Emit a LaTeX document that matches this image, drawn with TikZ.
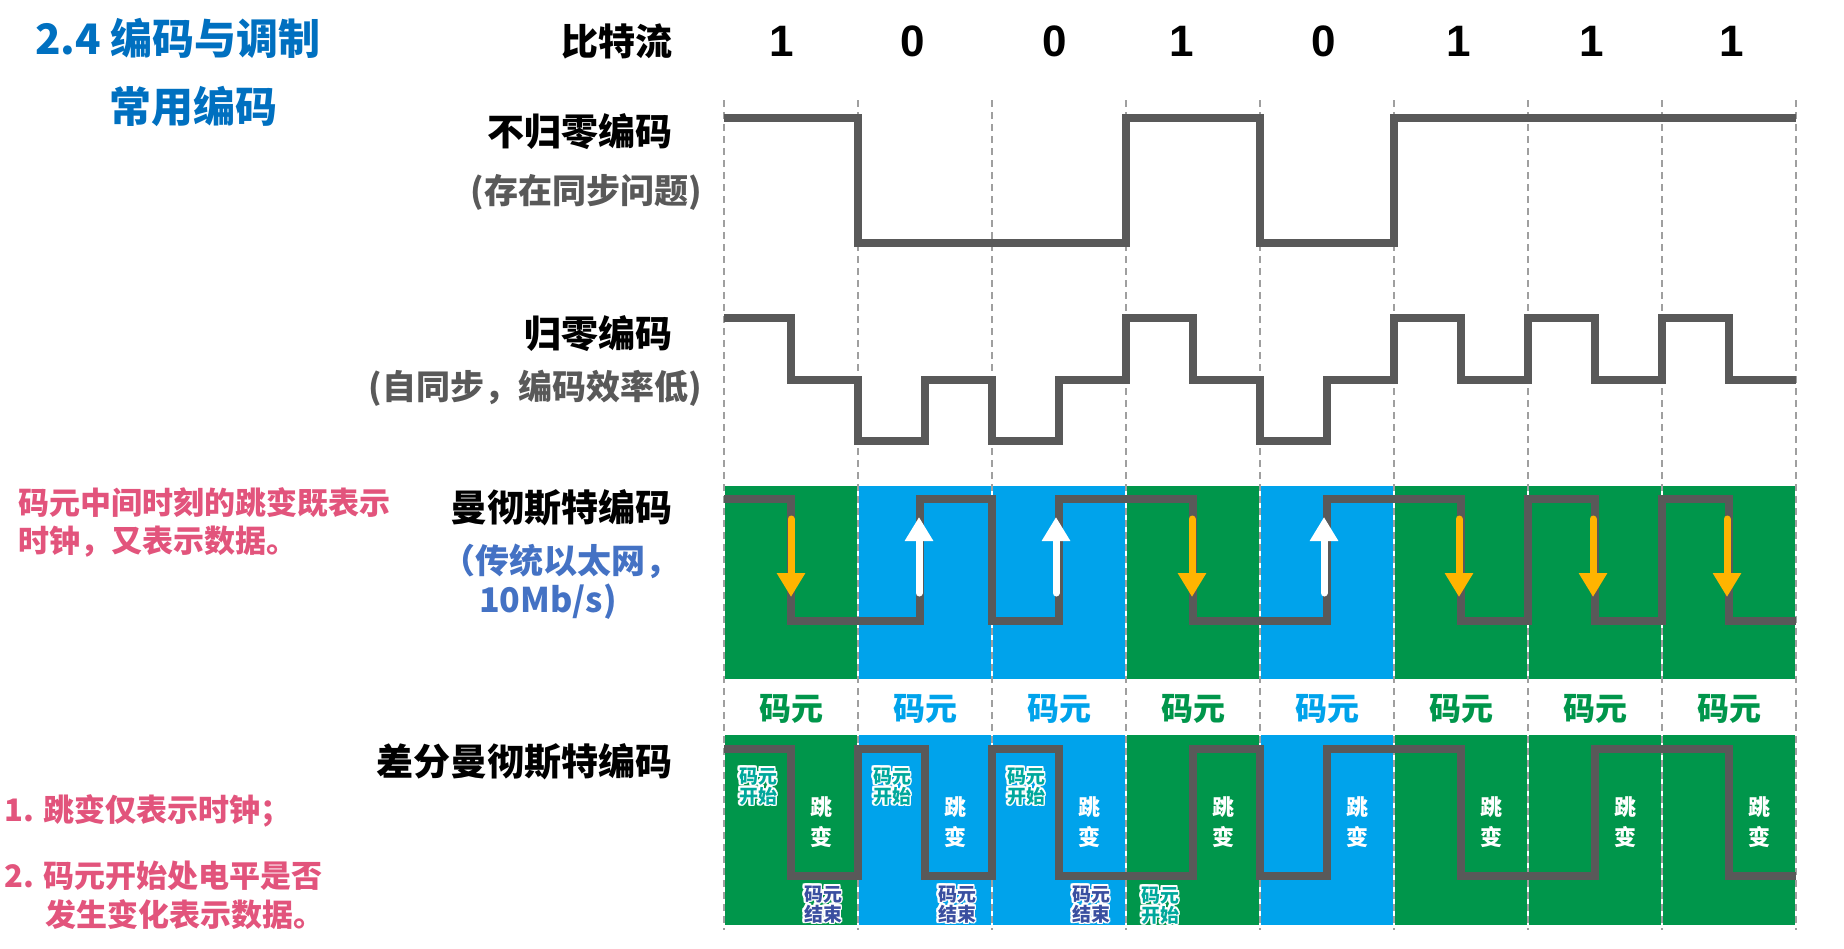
\documentclass[tikz,border=0pt]{standalone}
\usepackage{fontspec}
\setmainfont{Noto Sans CJK SC}[BoldFont={Noto Sans CJK SC Black}]
\newfontfamily\numfont{Liberation Sans}
\usepackage{contour}
\contourlength{1.6pt}
\usepackage{tikz}
\usetikzlibrary{arrows.meta,positioning}
\usepackage{xcolor}

\definecolor{wavegray}{HTML}{595959}
\definecolor{cellgreen}{RGB}{0,150,75}
\definecolor{cellblue}{RGB}{0,163,235}
\definecolor{titleblue}{HTML}{0070C0}
\definecolor{notepink}{RGB}{226,84,124}
\definecolor{ethblue}{HTML}{4472C4}
\definecolor{remarkgray}{HTML}{595959}
\definecolor{arrowyellow}{RGB}{255,180,0}
\definecolor{starttag}{RGB}{0,168,156}
\definecolor{endtag}{RGB}{58,79,160}

\newcommand{\tagtext}[2]{\contour{white}{#1}\\\contour{white}{#2}}

\begin{document}
\begin{tikzpicture}[
  x=1pt, y=-1pt,
  wave/.style={draw=wavegray, line width=8pt, line join=miter},
  gridline/.style={draw=gray!75, line width=1.1pt, dash pattern=on 7pt off 5pt},
  codename/.style={anchor=east, inner sep=0pt, font=\fontsize{37}{44}\selectfont\bfseries},
  remark/.style={anchor=east, inner sep=0pt, text=remarkgray, font=\fontsize{34}{40}\selectfont\bfseries},
  note/.style={anchor=west, align=left, inner sep=0pt, text=notepink, font=\fontsize{31}{38}\selectfont\bfseries},
  bitval/.style={inner sep=0pt, font=\numfont\fontsize{44}{50}\selectfont\bfseries},
  celllabel/.style={inner sep=0pt, font=\fontsize{32}{38}\selectfont\bfseries},
  edgetag/.style={align=center, inner sep=0pt, font=\fontsize{19}{20}\selectfont\bfseries},
  jump/.style={align=center, inner sep=0pt, text=white, font=\fontsize{22}{30}\selectfont\bfseries},
  downarr/.style={draw=arrowyellow, line width=7pt, line cap=round, -{Triangle[width=27pt,length=24pt]}},
  uparr/.style={draw=white, line width=7pt, line cap=round, -{Triangle[width=27pt,length=24pt]}}
]
\useasboundingbox (0,0) rectangle (1844,948);

% Title
\node[anchor=west, inner sep=0pt, text=titleblue, font=\fontsize{42}{48}\selectfont\bfseries] (title) at (35,38) {2.4 编码与调制};
\node[anchor=west, inner sep=0pt, text=titleblue, font=\fontsize{42}{48}\selectfont\bfseries] (subtitle) at (109,106) {常用编码};

% Colored code cells
\foreach \i/\c in {0/cellgreen,1/cellblue,2/cellblue,3/cellgreen,4/cellblue,5/cellgreen,6/cellgreen,7/cellgreen} {
  \fill[\c] ({724+134*\i+1},486) rectangle ({724+134*(\i+1)-1},679);
  \fill[\c] ({724+134*\i+1},735) rectangle ({724+134*(\i+1)-1},925);
  \node[celllabel, text=\c] (cell\i) at ({791+134*\i},709) {码元};
}

% Bit boundaries
\foreach \i in {0,...,8}
  \draw[gridline] ({724+134*\i},100) -- ({724+134*\i},930);

% Bit stream
\node[codename] (bitstream) at (673,41) {比特流};
\foreach \i/\b/\bx in {0/1/782,1/0/913,2/0/1055,3/1/1182,4/0/1324,5/1/1459,6/1/1592,7/1/1732}
  \node[bitval] (bit\i) at (\bx,41) {\b};

% Non-return-to-zero
\node[codename] (nrz) at (673,132) {不归零编码};
\node[remark] (nrznote) at (702,192) {(存在同步问题)};
\draw[wave] (724,118) -- (858,118) -- (858,243) -- (1126,243) -- (1126,118) -- (1260,118)
  -- (1260,243) -- (1394,243) -- (1394,118) -- (1796,118);

% Return-to-zero
\node[codename] (rz) at (673,334) {归零编码};
\node[remark] (rznote) at (702,388) {(自同步，编码效率低)};
\draw[wave] (724,318) -- (791,318) -- (791,380) -- (858,380) -- (858,441) -- (925,441)
  -- (925,380) -- (992,380) -- (992,441) -- (1059,441) -- (1059,380) -- (1126,380)
  -- (1126,318) -- (1193,318) -- (1193,380) -- (1260,380) -- (1260,441) -- (1327,441)
  -- (1327,380) -- (1394,380) -- (1394,318) -- (1461,318) -- (1461,380) -- (1528,380)
  -- (1528,318) -- (1595,318) -- (1595,380) -- (1662,380) -- (1662,318) -- (1729,318)
  -- (1729,380) -- (1796,380);

% Manchester
\node[codename] (man) at (673,508) {曼彻斯特编码};
\node[anchor=west, align=left, inner sep=0pt, text=ethblue, font=\fontsize{34}{39}\selectfont\bfseries] (mannote) at (441,582) {（传统以太网，\\\hspace*{38pt}10Mb/s)};
\node[note] (mannote2) at (18,522) {码元中间时刻的跳变既表示\\时钟，又表示数据。};
\draw[wave] (724,499) -- (791,499) -- (791,621) -- (920,621) -- (920,499) -- (992,499)
  -- (992,621) -- (1059,621) -- (1059,499) -- (1193,499) -- (1193,621) -- (1327,621)
  -- (1327,499) -- (1461,499) -- (1461,621) -- (1528,621) -- (1528,499) -- (1595,499)
  -- (1595,621) -- (1662,621) -- (1662,499) -- (1729,499) -- (1729,621) -- (1796,621);
\foreach \i/\sty/\ya/\yb/\dx in {0/downarr/519/597/791,1/uparr/593/517/919,2/uparr/593/517/1056,3/downarr/519/597/1192,4/uparr/593/517/1324,5/downarr/519/597/1459,6/downarr/519/597/1593,7/downarr/519/597/1727} {
  \coordinate (arrtail\i) at (\dx,\ya);
  \coordinate (arrhead\i) at (\dx,\yb);
  \draw[\sty] (arrtail\i) -- (arrhead\i);
}

% Differential Manchester
\node[codename] (dman) at (673,762) {差分曼彻斯特编码};
\node[note] (rule1) at (4,811) {1. 跳变仅表示时钟；};
\node[note] (rule2) at (4,876) {2. 码元开始处电平是否};
\node[note] (rule3) at (45,915) {发生变化表示数据。};
\draw[wave] (724,749) -- (791,749) -- (791,876) -- (858,876) -- (858,749) -- (925,749)
  -- (925,876) -- (992,876) -- (992,749) -- (1059,749) -- (1059,876) -- (1193,876)
  -- (1193,749) -- (1260,749) -- (1260,876) -- (1327,876) -- (1327,749) -- (1461,749)
  -- (1461,876) -- (1595,876) -- (1595,749) -- (1729,749) -- (1729,876) -- (1796,876);
\foreach \i in {0,...,7}
  \node[jump] (jump\i) at ({821+134*\i},822) {跳\\变};
\foreach \i in {0,1,2}
  \node[edgetag, text=starttag] (start\i) at ({758+134*\i},787) {\tagtext{码元}{开始}};
\node[edgetag, text=starttag] (start3) at (1160,906) {\tagtext{码元}{开始}};
\foreach \i in {0,1,2}
  \node[edgetag, text=endtag] (end\i) at ({823+134*\i},905) {\tagtext{码元}{结束}};

\end{tikzpicture}
\end{document}
